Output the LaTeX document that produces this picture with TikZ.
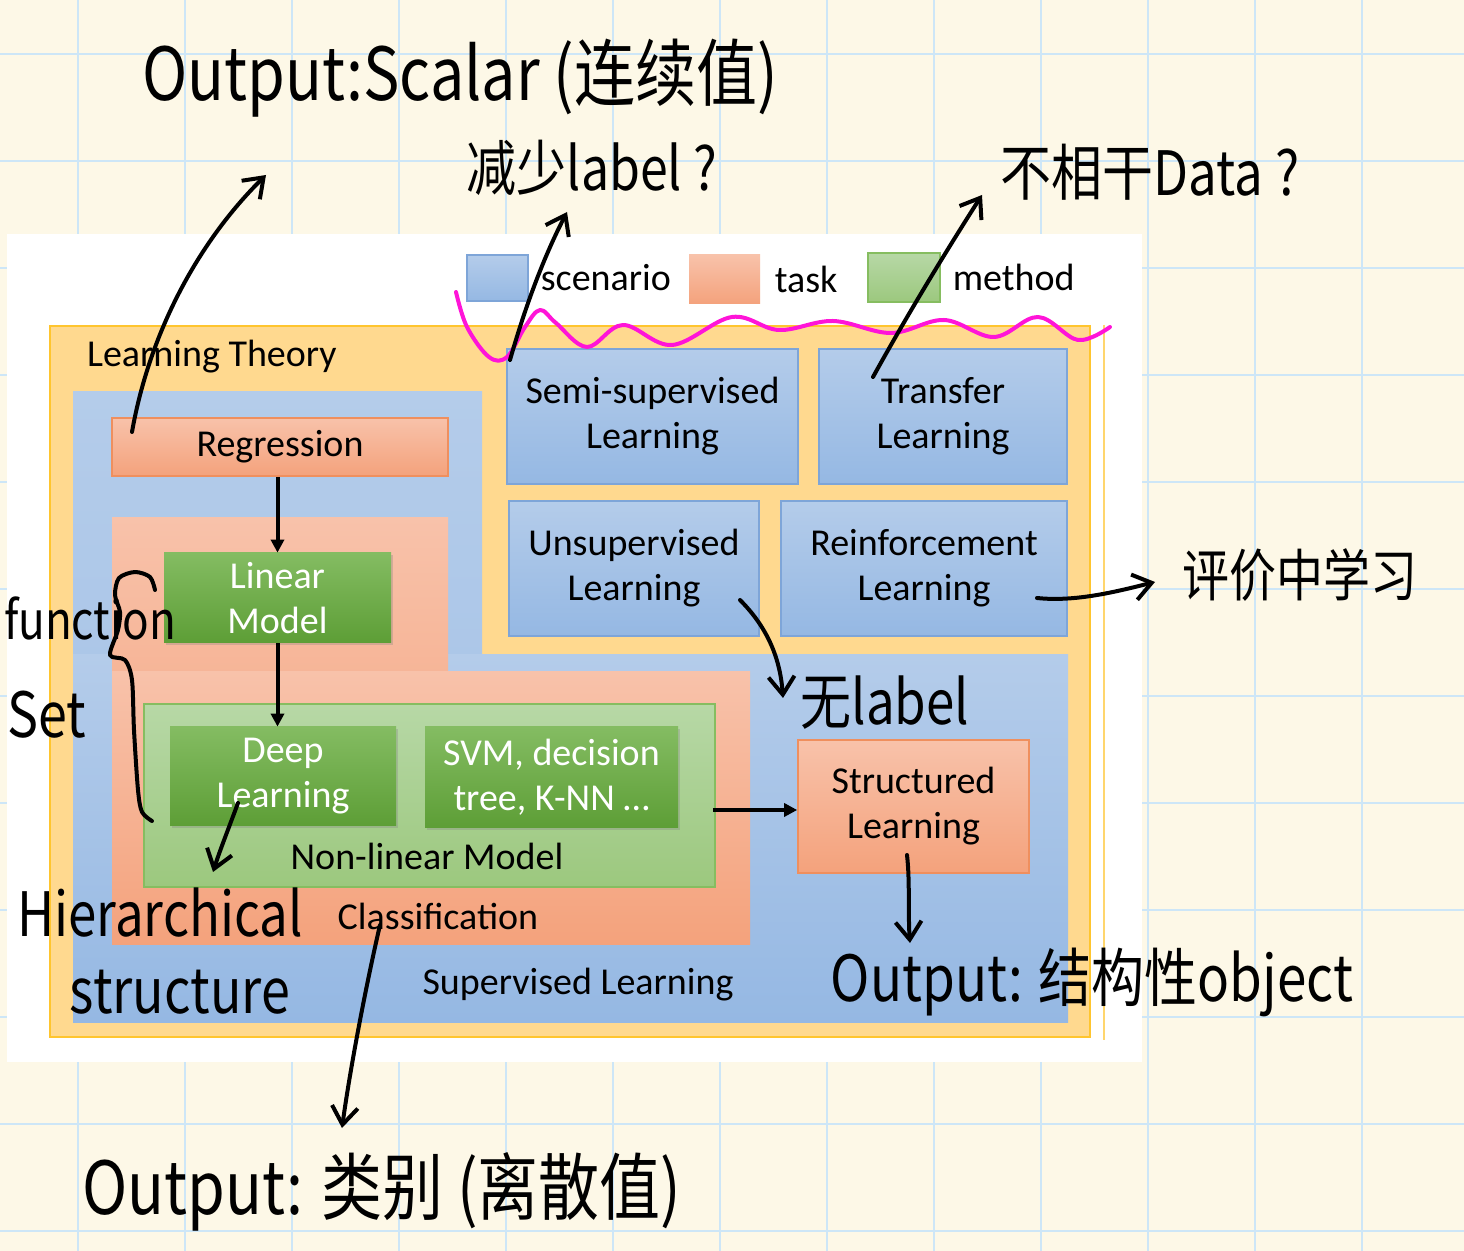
\documentclass[tikz,border=0pt]{standalone}
\usepackage{fontspec}
\setmainfont{Carlito}
\newfontfamily\cjk{Noto Sans CJK SC}
\usetikzlibrary{arrows.meta, positioning, shadows}
\definecolor{paper}{HTML}{FDF8E7}
\definecolor{gridblue}{HTML}{CDE6F7}
\definecolor{theoryfill}{HTML}{FFD98F}
\definecolor{theoryline}{HTML}{FFC52E}
\definecolor{scentop}{HTML}{B4CCEA}
\definecolor{scenbot}{HTML}{95B8E3}
\definecolor{scenline}{HTML}{7EA5D8}
\definecolor{tasktop}{HTML}{F8C2AA}
\definecolor{taskbot}{HTML}{F4A27C}
\definecolor{taskline}{HTML}{EF8F5E}
\definecolor{methtop}{HTML}{84BC62}
\definecolor{methbot}{HTML}{5D9E36}
\definecolor{nltop}{HTML}{B7D8A6}
\definecolor{nlbot}{HTML}{9CC87E}
\definecolor{nlline}{HTML}{86BD60}
\definecolor{marker}{HTML}{FF14D8}
\newcommand{\boxfont}{\fontsize{19}{22.5}\selectfont}

\begin{document}
\begin{tikzpicture}[x=0.5pt, y=-0.5pt, every node/.style={font=\boxfont},
  scenbox/.style={draw=scenline, line width=0.8pt, top color=scentop, bottom color=scenbot, align=center},
  taskbox/.style={draw=taskline, line width=0.8pt, top color=tasktop, bottom color=taskbot, align=center},
  methbox/.style={top color=methtop, bottom color=methbot, text=white, align=center,
    drop shadow={opacity=0.3, shadow xshift=1pt, shadow yshift=-1.2pt}},
  nlbox/.style={draw=nlline, line width=0.8pt, top color=nltop, bottom color=nlbot},
  flow/.style={-{Triangle[length=6.5pt,width=6.5pt]}, line width=2pt},
  ink/.style={line width=2pt, line cap=round, line join=round},
  inkarrow/.style={ink, -{Straight Barb[length=9pt,width=13pt]}},
  note/.style={font=\cjk, yscale=1.2, inner sep=0pt}]
  \useasboundingbox (0,0) rectangle (1464,1251);
  \fill[paper] (0,0) rectangle (1464,1251);
  \foreach \g in {78,185,...,1464}
    \draw[gridblue, line width=0.8pt] (\g,0) -- (\g,1251);
  \foreach \g in {54,161,...,1251}
    \draw[gridblue, line width=0.8pt] (0,\g) -- (1464,\g);

  \fill[white] (7,234) rectangle (1142,1062);
  \draw[theoryline!70, line width=0.6pt] (1104,325) -- (1104,1040);
  \draw[theoryline, line width=0.8pt, fill=theoryfill] (50,326) rectangle (1090,1037);
  \shade[top color=scentop, bottom color=scentop!75!scenbot] (73,392) rectangle (482,655);
  \shade[top color=scentop, bottom color=scenbot] (73,655) rectangle (1068,1022);
  \shade[top color=tasktop, bottom color=tasktop!60!taskbot] (112,518) rectangle (448,672);
  \shade[top color=tasktop, bottom color=taskbot] (112,672) rectangle (750,944);

  % legend
  \node[scenbox, minimum width=30.5pt, minimum height=23pt] (legscen) at (497.5,278) {};
  \node[right=2.5pt of legscen] (legscentext) {scenario};
  \node[taskbox, draw=none, minimum width=35.5pt, minimum height=24.5pt] (legtask) at (724.5,279.5) {};
  \node[right=3.5pt of legtask] (legtasktext) {task};
  \node[nlbox, minimum width=36pt, minimum height=24.5pt] (legmeth) at (904,277.5) {};
  \node[right=2.5pt of legmeth] (legmethtext) {method};

  \node[anchor=west] (theory) at (80,357) {Learning Theory};
  \node[taskbox, minimum width=168pt, minimum height=29pt] (reg) at (280,447) {Regression};
  \node[methbox, minimum width=113.5pt, minimum height=45pt] (lin) at (277.5,598) {Linear\\Model};
  \node[nlbox, minimum width=285.5pt, minimum height=91.5pt] (nonlin) at (429.5,795.5) {};
  \node[methbox, minimum width=113pt, minimum height=49.5pt] (deep) at (283,776.5) {Deep\\Learning};
  \node[methbox, minimum width=126.5pt, minimum height=50.5pt] (svm) at (551.5,777.5) {SVM, decision\\tree, K-NN \dots};
  \node (nltext) at (427,856) {Non-linear Model};
  \node (cls) at (438,916) {Classification};
  \node (sup) at (578,985) {Supervised Learning};

  \node[scenbox, minimum width=145.5pt, minimum height=67.5pt] (semi) at (652.5,416.5) {Semi-supervised\\Learning};
  \node[scenbox, minimum width=124pt, minimum height=67.5pt] (transfer) at (943,416.5) {Transfer\\Learning};
  \node[scenbox, minimum width=125pt, minimum height=67.5pt] (unsup) at (634,568.5) {Unsupervised\\Learning};
  \node[scenbox, minimum width=143pt, minimum height=67.5pt] (reinf) at (924,568.5) {Reinforcement\\Learning};
  \node[taskbox, minimum width=115.5pt, minimum height=66.5pt] (struct) at (913.5,806.5) {Structured\\Learning};

  \draw[flow] (reg.south -| lin.north) -- (lin.north);
  \draw[flow] (lin.south) -- (lin.south |- deep.north);
  \draw[flow] ([xshift=-1.5pt]nonlin.east |- 0,810) -- (struct.west |- 0,810);

  % handwritten notes
  \draw[marker, ink] plot[smooth, tension=0.6] coordinates {(456,292) (467,327) (489,357) (507,357)
    (525,327) (540,310) (556,323) (587,347) (623,325) (672,345) (732,317) (779,330) (833,321)
    (891,333) (944,320) (994,337) (1038,317) (1078,340) (1110,327)};

  \node[note, font=\cjk\fontsize{30.5}{30.5}\selectfont] (scalar) at (460,78) {Output:Scalar (连续值)};
  \node[note, font=\cjk\fontsize{25}{25}\selectfont] (fewlabel) at (592,168) {减少label ?};
  \node[note, font=\cjk\fontsize{25.5}{25.5}\selectfont] (otherdata) at (1150,172) {不相干Data ?};
  \node[note, font=\cjk\fontsize{23.5}{23.5}\selectfont] (critic) at (1300,575) {评价中学习};
  \node[note, font=\cjk\fontsize{25.5}{25.5}\selectfont] (nolabel) at (885,703) {无label};
  \node[note, font=\cjk\fontsize{26.5}{26.5}\selectfont] (structout) at (1092,982) {Output: 结构性object};
  \node[note, font=\cjk\fontsize{30.5}{30.5}\selectfont] (classout) at (382,1192) {Output: 类别 (离散值)};
  \node[note, font=\cjk\fontsize{22}{22}\selectfont] (func) at (90,618) {function};
  \node[note, font=\cjk\fontsize{26}{26}\selectfont] (setword) at (47,715) {Set};
  \node[note, font=\cjk\fontsize{25.5}{25.5}\selectfont] (hier) at (160,913) {Hierarchical};
  \node[note, font=\cjk\fontsize{26}{26}\selectfont] (hstruct) at (180,992) {structure};

  \coordinate (regpen) at (132,432);
  \coordinate (scalartip) at (266,175);
  \coordinate (semipen) at (510,360);
  \coordinate (fewtip) at (567,212);
  \coordinate (transpen) at (873,377);
  \coordinate (othertip) at (982,195);
  \coordinate (reinfpen) at (1037,598);
  \coordinate (critictip) at (1155,582);
  \coordinate (unsuppen) at (740,600);
  \coordinate (nolabeltip) at (783,698);
  \coordinate (structpen) at (907,855);
  \coordinate (structtip) at (910,943);
  \coordinate (clspen) at (380,925);
  \coordinate (clstip) at (342,1128);
  \coordinate (deeppen) at (238,803);
  \coordinate (hiertip) at (213,872);

  \draw[inkarrow] (regpen) .. controls (150,330) and (200,240) .. (scalartip);
  \draw[inkarrow] (semipen) .. controls (530,290) and (550,245) .. (fewtip);
  \draw[inkarrow] (transpen) .. controls (910,310) and (950,245) .. (othertip);
  \draw[inkarrow] (reinfpen) .. controls (1075,602) and (1115,592) .. (critictip);
  \draw[inkarrow] (unsuppen) .. controls (765,625) and (780,655) .. (nolabeltip);
  \draw[inkarrow] (structpen) .. controls (910,880) and (908,915) .. (structtip);
  \draw[inkarrow] (clspen) .. controls (365,990) and (350,1070) .. (clstip);
  \draw[inkarrow] (deeppen) .. controls (228,830) and (220,850) .. (hiertip);
  \draw[ink] plot[smooth] coordinates {(155,590) (150,577) (135,572) (119,578) (115,595) (120,612)
    (118,630) (110,655) (125,660) (132,680) (134,730) (138,790) (142,812) (152,821)};
\end{tikzpicture}
\end{document}
